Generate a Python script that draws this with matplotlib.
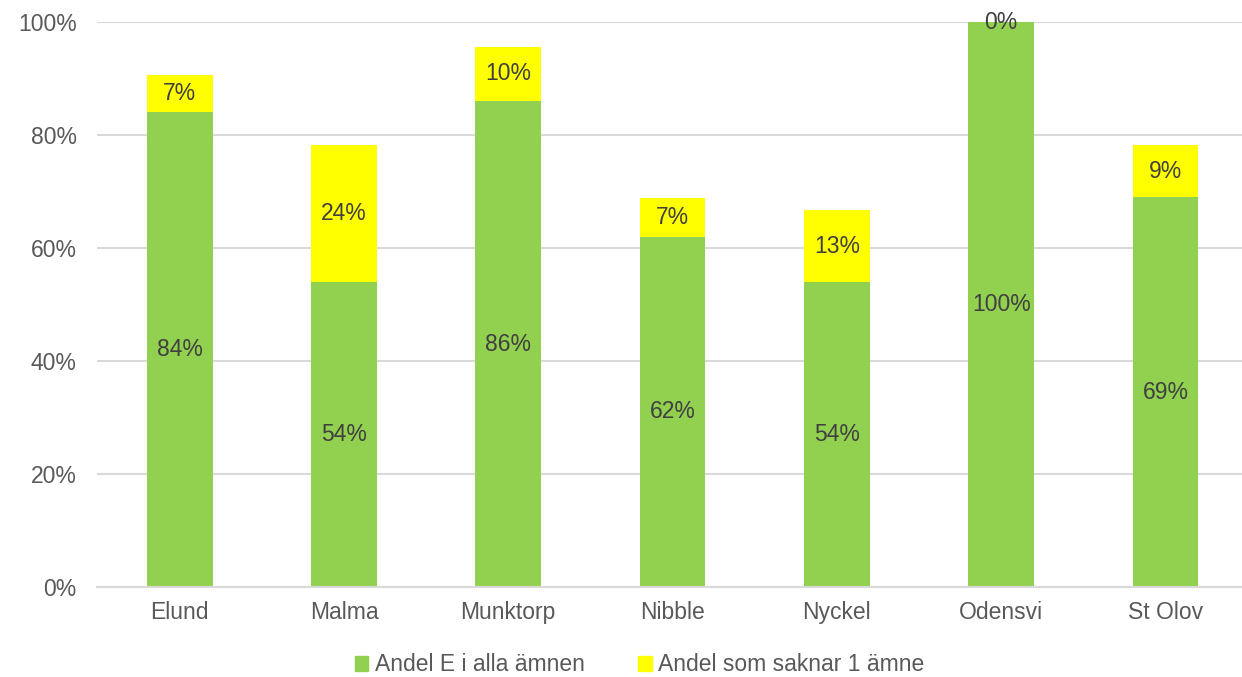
import numpy as np
import matplotlib.pyplot as plt
from matplotlib.patches import Patch

plt.rcParams['font.family'] = ['Liberation Sans', 'DejaVu Sans']

schools = ["Elund", "Malma", "Munktorp", "Nibble", "Nyckel", "Odensvi", "St Olov"]
andel_e = [84.0, 54.0, 86.0, 62.0, 54.0, 100.0, 69.0]
andel_saknar = [6.6, 24.2, 9.6, 6.9, 12.7, 0.0, 9.2]

green = "#92D050"
yellow = "#FFFF00"
txt = "#404040"

fig = plt.figure(figsize=(12.42, 6.77), dpi=100)
ax = fig.add_axes([0.0785, 0.133, 0.926, 0.8345])

x = np.arange(len(schools))
w = 0.4
b1 = ax.bar(x, andel_e, w, color=green, zorder=2)
b2 = ax.bar(x, andel_saknar, w, bottom=andel_e, color=yellow, zorder=2)

for i in range(len(schools)):
    ax.text(x[i], andel_e[i] / 2, f"{andel_e[i]:.0f}%", ha="center", va="center",
            fontsize=16.5, color=txt, zorder=3)
    ax.text(x[i], andel_e[i] + andel_saknar[i] / 2, f"{andel_saknar[i]:.0f}%",
            ha="center", va="center", fontsize=16.5, color=txt, zorder=3)

ax.set_xlim(-0.5, len(schools) - 0.5)
ax.set_ylim(0, 100)
ax.set_yticks(np.arange(0, 101, 20))
ax.set_yticklabels([f"{v}%" for v in range(0, 101, 20)])
ax.set_xticks(x)
ax.set_xticklabels(schools)
ax.yaxis.grid(True, color="#D9D9D9", linewidth=1.5, zorder=0)
ax.set_axisbelow(True)
for s in ["top", "right", "left"]:
    ax.spines[s].set_visible(False)
ax.spines["bottom"].set_color("#D9D9D9")
ax.spines["bottom"].set_linewidth(1.5)
ax.tick_params(axis="both", length=0, labelsize=16.5, colors="#595959", pad=10)
ax.tick_params(axis="y", pad=15)

handles = [Patch(color=green), Patch(color=yellow)]
fig.legend(handles, ["Andel E i alla ämnen", "Andel som saknar 1 ämne"],
           loc="center", bbox_to_anchor=(0.515, 0.018), ncol=2, frameon=False,
           fontsize=16.5, handlelength=0.6, handleheight=0.6, handletextpad=0.3,
           columnspacing=2.3, labelcolor="#595959")

fig.savefig("out.png", dpi=100)
